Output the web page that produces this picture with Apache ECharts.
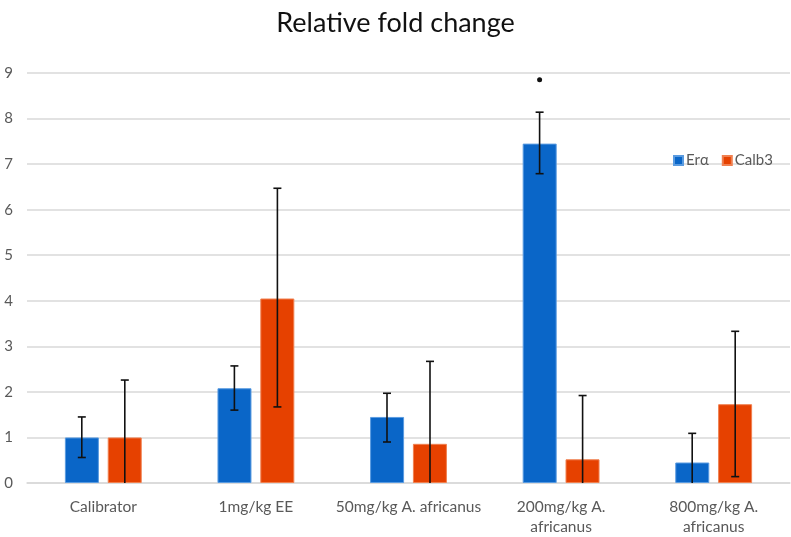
<!DOCTYPE html>
<html>
<head>
<meta charset="utf-8">
<script src="https://cdn.jsdelivr.net/npm/echarts@6/dist/echarts.min.js"></script>
<style>html,body{margin:0;padding:0;background:#fff;}#chart{width:791px;height:537px;}</style>
</head>
<body>
<div id="chart"></div>
<script>
var categories = ['Calibrator', '1mg/kg EE', '50mg/kg A. africanus', '200mg/kg A.\nafricanus', '800mg/kg A.\nafricanus'];
var seriesNames = ['Er\u03b1', 'Calb3'];
var eraValues = [1.0, 2.08, 1.45, 7.45, 0.45];
var eraLow = [0.56, 1.60, 0.90, 6.79, 0];
var eraHigh = [1.45, 2.57, 1.97, 8.14, 1.09];
var calbValues = [1.0, 4.05, 0.86, 0.52, 1.73];
var calbLow = [0, 1.67, 0, 0, 0.14];
var calbHigh = [2.26, 6.47, 2.67, 1.92, 3.33];
var sigMarks = [null, null, null, 8.85, null];
var yTicks = [0, 1, 2, 3, 4, 5, 6, 7, 8, 9];

var BLUE = '#0a66c8';
var ORANGE = '#e64100';
var BAR_W = 34;
var BAR_OFFSET = 21.5;

function errorSeries(name, low, high, offset) {
  return {
    type: 'custom',
    name: name + ' err',
    silent: true,
    z: 5,
    data: low.map(function (l, i) { return [i, l, high[i]]; }),
    encode: { x: 0, y: [1, 2] },
    renderItem: function (params, api) {
      var p1 = api.coord([api.value(0), api.value(1)]);
      var p2 = api.coord([api.value(0), api.value(2)]);
      var x = p1[0] + offset;
      var cap = 4;
      var style = { stroke: '#111', lineWidth: 1.6 };
      var children = [
        { type: 'line', shape: { x1: x, y1: p1[1], x2: x, y2: p2[1] }, style: style },
        { type: 'line', shape: { x1: x - cap, y1: p2[1], x2: x + cap, y2: p2[1] }, style: style }
      ];
      if (api.value(1) > 0) {
        children.push({ type: 'line', shape: { x1: x - cap, y1: p1[1], x2: x + cap, y2: p1[1] }, style: style });
      }
      return { type: 'group', children: children };
    }
  };
}

var chart = echarts.init(document.getElementById('chart'), null, { renderer: 'canvas' });
chart.setOption({
  animation: false,
  backgroundColor: '#fff',
  title: {
    text: 'Relative fold change',
    left: 'center',
    top: 5,
    textStyle: { fontFamily: 'Lato', fontWeight: 'normal', fontSize: 27, color: '#111' }
  },
  legend: {
    data: seriesNames,
    left: 668,
    top: 148,
    itemWidth: 9,
    itemHeight: 9,
    itemGap: 13,
    icon: 'rect',
    textStyle: { fontFamily: 'Lato', fontSize: 15, color: '#595959', padding: [0, 0, 0, -2] }
  },
  grid: { left: 27, right: 1, top: 73, bottom: 51, containLabel: false },
  xAxis: {
    type: 'category',
    data: categories,
    axisLine: { show: true, lineStyle: { color: '#d9d9d9', width: 1.5 } },
    axisTick: { show: false },
    axisLabel: { fontFamily: 'Lato', fontSize: 15.5, color: '#595959', margin: 14, lineHeight: 20, interval: 0 }
  },
  yAxis: {
    type: 'value',
    min: 0,
    max: 9,
    interval: 1,
    axisLine: { show: false },
    axisTick: { show: false },
    splitLine: { lineStyle: { color: '#d9d9d9', width: 1.5 } },
    axisLabel: {
      fontFamily: 'Lato', fontSize: 15, color: '#595959', margin: 14,
      formatter: function (v) { return yTicks.indexOf(v) >= 0 ? String(v) : ''; }
    }
  },
  series: [
    {
      name: seriesNames[0], type: 'bar', data: eraValues, barWidth: BAR_W, barGap: '26%',
      itemStyle: { color: BLUE, borderColor: '#5a9be0', borderWidth: 1 }
    },
    {
      name: seriesNames[1], type: 'bar', data: calbValues, barWidth: BAR_W,
      itemStyle: { color: ORANGE, borderColor: '#f08050', borderWidth: 1 }
    },
    errorSeries('era', eraLow, eraHigh, -BAR_OFFSET),
    errorSeries('calb', calbLow, calbHigh, BAR_OFFSET),
    {
      type: 'custom',
      name: 'sig',
      silent: true,
      z: 6,
      data: sigMarks.map(function (v, i) { return v === null ? null : [i, v]; }).filter(function (d) { return d; }),
      encode: { x: 0, y: 1 },
      renderItem: function (params, api) {
        var p = api.coord([api.value(0), api.value(1)]);
        return { type: 'circle', shape: { cx: p[0] - BAR_OFFSET, cy: p[1], r: 2.5 }, style: { fill: '#111' } };
      }
    }
  ]
});
</script>
</body>
</html>
